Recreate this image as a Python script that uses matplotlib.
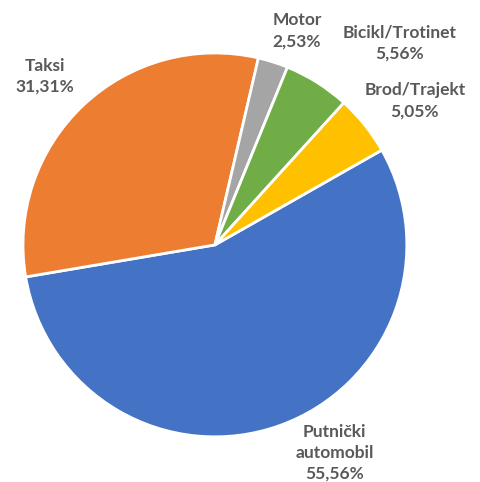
import numpy as np
import matplotlib.pyplot as plt

# data
labels = ['Putnički\nautomobil', 'Taksi', 'Motor', 'Bicikl/Trotinet', 'Brod/Trajekt']
values = [55.56, 31.31, 2.53, 5.56, 5.05]
colors = ['#4472C4', '#ED7D31', '#A5A5A5', '#70AD47', '#FFC000']

# label centres in pie units (radius = 1)
label_pos = [(0.625, -1.083), (-0.885, 0.88), (0.427, 1.115), (0.964, 1.052), (1.042, 0.75)]

plt.rcParams['font.family'] = ['Lato', 'DejaVu Sans']

fig = plt.figure(figsize=(4.81, 4.82), dpi=100)
ax = fig.add_axes([0.0478, 0.0934, 0.798, 0.797])

ax.pie(values, colors=colors, startangle=29.6, counterclock=False,
       wedgeprops=dict(edgecolor='white', linewidth=2))
ax.set_xlim(-1, 1)
ax.set_ylim(-1, 1)
ax.set_aspect('equal')
ax.axis('off')

for lab, v, (x, y) in zip(labels, values, label_pos):
    txt = lab + '\n' + f'{v:.2f}%'.replace('.', ',')
    ax.text(x, y, txt, ha='center', va='center', fontsize=12.5, fontweight='bold',
            color='#595959', linespacing=1.38, clip_on=False)

fig.savefig('out.png', dpi=100)
